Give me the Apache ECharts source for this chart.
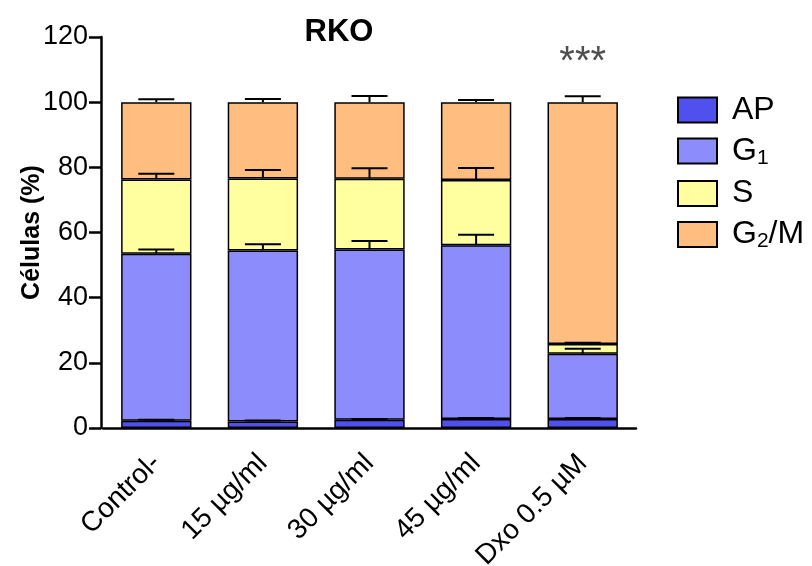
<!DOCTYPE html>
<html>
<head>
<meta charset="utf-8">
<script src="https://cdn.jsdelivr.net/npm/echarts@6/dist/echarts.min.js"></script>
<style>
  html, body { margin: 0; padding: 0; background: #fff; }
  #rko-chart { width: 812px; height: 566px; }
</style>
</head>
<body>
<div id="rko-chart"></div>
<script>
// categorias y valores (%)
var categories = ['Control-', '15 µg/ml', '30 µg/ml', '45 µg/ml', 'Dxo 0.5 µM'];
var apVals  = [2.2, 2.0, 2.5, 2.8, 2.8];
var g1Vals  = [51.3, 52.5, 52.3, 53.3, 20.0];
var sVals   = [22.8, 22.1, 21.7, 20.0, 3.0];
var g2mVals = [23.7, 23.4, 23.5, 23.9, 74.2];
// error (SEM) hacia arriba
var apErr  = [0.3, 0.3, 0.3, 0.3, 0.3];
var g1Err  = [1.3, 1.9, 2.6, 3.2, 1.5];
var sErr   = [1.7, 2.6, 3.2, 3.7, 0.4];
var g2mErr = [0.9, 1.0, 1.9, 0.7, 1.8];
var yTicks = [0, 20, 40, 60, 80, 100, 120];

var phases = [
  { name: 'AP',   vals: apVals,  err: apErr,  color: '#5050ee' },
  { name: 'G1',   vals: g1Vals,  err: g1Err,  color: '#8c8cfd' },
  { name: 'S',    vals: sVals,   err: sErr,   color: '#ffffa0' },
  { name: 'G2/M', vals: g2mVals, err: g2mErr, color: '#ffbe80' }
];

// datos de barras de error: [indice, tope acumulado, error]
var errData = [];
var cum = categories.map(function () { return 0; });
phases.forEach(function (p) {
  p.vals.forEach(function (v, i) {
    cum[i] += v;
    errData.push([i, cum[i], p.err[i]]);
  });
});

var series = phases.map(function (p) {
  return {
    name: p.name,
    type: 'bar',
    stack: 'total',
    barWidth: '66%',
    data: p.vals,
    itemStyle: { color: p.color, borderColor: '#000', borderWidth: 1.5 },
    emphasis: { disabled: true }
  };
});

series.push({
  type: 'custom',
  name: 'err',
  z: 5,
  data: errData,
  encode: { x: 0, y: 1 },
  renderItem: function (params, api) {
    var idx = api.value(0);
    var base = api.coord([idx, api.value(1)]);
    var top = api.coord([idx, api.value(1) + api.value(2)]);
    var hw = 18;
    var st = { stroke: '#000', lineWidth: 2 };
    return {
      type: 'group',
      children: [
        { type: 'line', shape: { x1: base[0], y1: base[1], x2: top[0], y2: top[1] }, style: st },
        { type: 'line', shape: { x1: top[0] - hw, y1: top[1], x2: top[0] + hw, y2: top[1] }, style: st }
      ]
    };
  }
});

// asteriscos de significancia sobre Dxo
series.push({
  type: 'scatter',
  name: 'sig',
  symbolSize: 0,
  data: [[4, 112]],
  label: {
    show: true, position: 'inside', formatter: '***',
    fontSize: 40, color: '#222', fontFamily: 'Liberation Sans'
  },
  silent: true
});

var chart = echarts.init(document.getElementById('rko-chart'));
chart.setOption({
  animation: false,
  textStyle: { fontFamily: 'Liberation Sans' },
  title: {
    text: 'RKO',
    left: 334, top: 12, textAlign: 'center',
    textStyle: { fontSize: 31, fontWeight: 'bold', color: '#000', fontFamily: 'Liberation Sans' }
  },
  legend: {
    orient: 'vertical',
    left: 672, top: 89,
    icon: 'rect',
    itemWidth: 39, itemHeight: 25, itemGap: 9,
    data: ['AP', 'G1', 'S', 'G2/M'],
    formatter: function (name) {
      if (name === 'G1') return 'G{sub|1}';
      if (name === 'G2/M') return 'G{sub|2}/M';
      return name;
    },
    textStyle: {
      fontSize: 32, color: '#000', padding: [0, 0, 0, 10],
      rich: { sub: { fontSize: 21, verticalAlign: 'bottom', padding: [14, 0, 0, 0], color: '#000' } }
    }
  },
  grid: { left: 103, right: 176, top: 37, bottom: 138, outerBoundsMode: 'none' },
  xAxis: {
    type: 'category',
    data: categories,
    axisLine: { lineStyle: { color: '#000', width: 2.5 } },
    axisTick: { alignWithLabel: true, length: 11, lineStyle: { color: '#000', width: 2.5 } },
    axisLabel: { rotate: 45, fontSize: 28, color: '#000', margin: 31, interval: 0 }
  },
  yAxis: {
    type: 'value',
    min: yTicks[0], max: yTicks[yTicks.length - 1], interval: 20,
    offset: 2,
    name: 'Células (%)',
    nameLocation: 'middle',
    nameGap: 56,
    nameMoveOverlap: false,
    nameTextStyle: { fontSize: 25, fontWeight: 'bold', color: '#000' },
    axisLine: { show: true, lineStyle: { color: '#000', width: 2.5 } },
    axisTick: { show: true, length: 12, lineStyle: { color: '#000', width: 2.5 } },
    axisLabel: { fontSize: 27, color: '#000', margin: 13 },
    splitLine: { show: false }
  },
  series: series
});
</script>
</body>
</html>
